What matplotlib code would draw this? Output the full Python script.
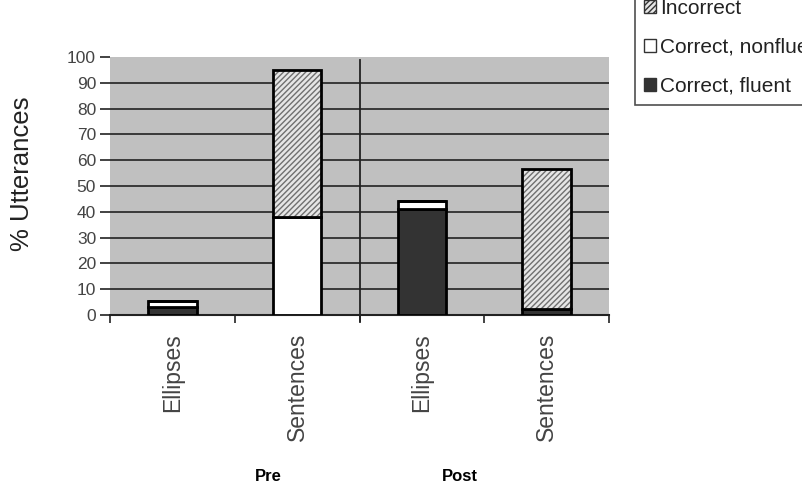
import numpy as np
import matplotlib.pyplot as plt
from matplotlib.patches import Patch

plt.rcParams['font.family'] = ['Liberation Sans', 'DejaVu Sans']

# Datos (% de enunciados)
categorias = ["Ellipses", "Sentences", "Ellipses", "Sentences"]
grupos = ["Pre", "Post"]
fluent = [3, 0, 41, 2.5]
nonfluent = [2.5, 38, 3, 0]
incorrect = [0, 57, 0, 54]

x = np.arange(len(categorias))
ancho = 0.39
fluent = np.array(fluent)
nonfluent = np.array(nonfluent)
incorrect = np.array(incorrect)

fig = plt.figure(figsize=(8.02, 4.94), dpi=100)
ax = fig.add_axes([110 / 802, 1 - 315 / 494, (609 - 110) / 802, (315 - 57) / 494])
ax.set_facecolor('#c0c0c0')

# cuadricula
for yv in range(10, 100, 10):
    ax.axhline(yv, color='#222222', lw=1.2, zorder=1)

# barras apiladas
ax.bar(x, fluent, ancho, color='#333333', edgecolor='black', lw=2, zorder=3)
ax.bar(x, nonfluent, ancho, bottom=fluent, color='white', edgecolor='black', lw=2, zorder=3)
base = fluent + nonfluent
ax.bar(x, incorrect, ancho, bottom=base, color='#e6e6e6', edgecolor='#707070',
       hatch='//////', lw=0, zorder=3)
ax.bar(x, incorrect, ancho, bottom=base, fill=False, edgecolor='black', lw=2, zorder=4)

# separador Pre / Post
ax.plot([1.5, 1.5], [-2.2, 98.8], color='#222222', lw=1.3, clip_on=False, zorder=2)

ax.set_xlim(-0.5, 3.5)
ax.set_ylim(0, 100)
ax.set_yticks(range(0, 101, 10))
ax.tick_params(axis='y', length=7, width=1.2, color='#222222', labelsize=12.5,
               labelcolor='#444444', pad=3)
ax.set_xticks(x)
ax.set_xticklabels(categorias, rotation=90, fontsize=16.5, color='#444444')
ax.set_xticks(np.arange(-0.5, 4, 1), minor=True)
ax.tick_params(axis='x', which='major', length=0, pad=13)
ax.tick_params(axis='x', which='minor', length=6, width=1.2, color='#222222')

for s in ['top', 'right', 'left']:
    ax.spines[s].set_visible(False)
ax.spines['bottom'].set_color('#222222')
ax.spines['bottom'].set_linewidth(1.5)

ax.set_ylabel('% Utterances', fontsize=18.5, color='#222222')
ax.yaxis.set_label_coords(-0.153, 0.547)

# etiquetas de grupo
fig.text(268 / 802, 1 - 476 / 494, grupos[0], fontsize=12, fontweight='bold',
         ha='center', va='center')
fig.text(460 / 802, 1 - 476 / 494, grupos[1], fontsize=12, fontweight='bold',
         ha='center', va='center')

# leyenda (recortada por el borde derecho, como en el original)
handles = [
    Patch(facecolor='#e6e6e6', edgecolor='#333333', hatch='//////', label='Incorrect'),
    Patch(facecolor='white', edgecolor='#333333', label='Correct, nonfluent'),
    Patch(facecolor='#333333', edgecolor='#333333', label='Correct, fluent'),
]
leg = fig.legend(handles=handles, loc='lower left',
                 bbox_to_anchor=(635 / 802, 1 - 105 / 494), fontsize=15,
                 frameon=True, fancybox=False, edgecolor='#222222',
                 handlelength=0.55, handleheight=0.55, handletextpad=0.2,
                 labelspacing=0.95, borderpad=0.45, borderaxespad=0)
leg.get_frame().set_linewidth(1.2)
for t in leg.get_texts():
    t.set_color('#222222')

fig.savefig('out.png', dpi=100)
